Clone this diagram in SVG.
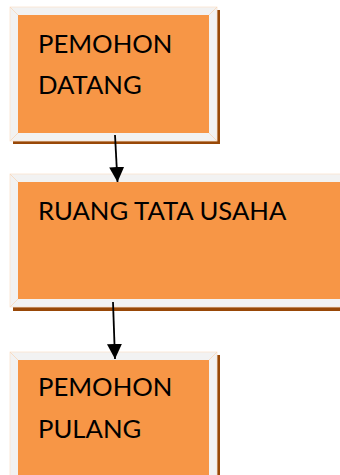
<svg xmlns="http://www.w3.org/2000/svg" width="340" height="475" viewBox="0 0 340 475">
  <style>
    .shadow { fill: #984807; }
    .frame { fill: #f2f2f2; stroke: #fbe3d0; stroke-width: 0.8; }
    .bevel { stroke: #f8d5b8; stroke-width: 0.8; fill: none; }
    .face { fill: #f79646; }
    .label { font-family: Lato, "Noto Sans", sans-serif; font-size: 25.7px; fill: #000; }
    .conn { stroke: #000; stroke-width: 1.8; fill: none; }
  </style>
  <defs>
    <marker id="arrow" markerWidth="18" markerHeight="18" refX="15" refY="7.5" orient="auto" markerUnits="userSpaceOnUse">
      <path d="M0,0 L15,7.5 L0,15 Z" fill="#000"/>
    </marker>
  </defs>

  <g id="pemohon-datang">
    <rect class="shadow" x="13" y="10" width="207" height="134"/>
    <rect class="frame" x="10" y="7" width="207" height="134"/>
    <path class="bevel" d="M10,7 L18,15 M217,7 L209,15 M10,141 L18,133 M217,141 L209,133"/>
    <rect class="face" x="18" y="15" width="191" height="118"/>
    <text class="label" x="38" y="53">PEMOHON</text>
    <text class="label" x="38" y="94">DATANG</text>
  </g>

  <g id="ruang-tata-usaha">
    <rect class="shadow" x="13" y="177" width="340" height="134"/>
    <rect class="frame" x="10" y="174" width="340" height="133"/>
    <path class="bevel" d="M10,174 L18,182 M10,307 L18,299"/>
    <rect class="face" x="18" y="182" width="330" height="117"/>
    <text class="label" x="38" y="220">RUANG TATA USAHA</text>
  </g>

  <g id="pemohon-pulang">
    <rect class="shadow" x="13" y="355" width="207" height="130"/>
    <rect class="frame" x="10" y="352" width="207" height="130"/>
    <path class="bevel" d="M10,352 L18,360 M217,352 L209,360"/>
    <rect class="face" x="18" y="360" width="191" height="120"/>
    <text class="label" x="38" y="396">PEMOHON</text>
    <text class="label" x="38" y="438">PULANG</text>
  </g>

  <g id="connectors">
    <line class="conn" x1="115" y1="135" x2="117.5" y2="182" marker-end="url(#arrow)"/>
    <line class="conn" x1="113" y1="302" x2="115" y2="359" marker-end="url(#arrow)"/>
  </g>
</svg>
